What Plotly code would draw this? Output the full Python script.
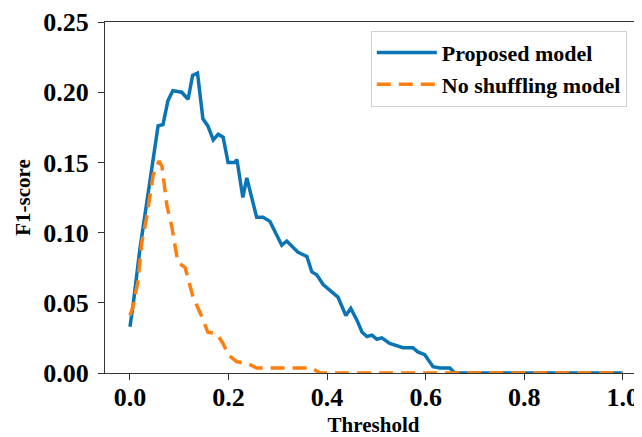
import plotly.graph_objects as go

# Proposed model (threshold, F1)
prop_x = [0.0, 0.0065, 0.02, 0.047, 0.057, 0.067, 0.077, 0.087, 0.105, 0.118, 0.127, 0.137,
          0.148, 0.158, 0.169, 0.179, 0.189, 0.199, 0.213, 0.217, 0.229, 0.237, 0.257, 0.27,
          0.284, 0.308, 0.318, 0.341, 0.359, 0.369, 0.379, 0.392, 0.406, 0.422, 0.438, 0.448,
          0.46, 0.471, 0.481, 0.491, 0.501, 0.511, 0.527, 0.537, 0.554, 0.574, 0.584, 0.598,
          0.615, 0.629, 0.649, 0.659, 0.7, 0.8, 0.9, 1.0]
prop_y = [0.033, 0.049, 0.088, 0.15, 0.176, 0.177, 0.194, 0.201, 0.2, 0.195, 0.212, 0.2136,
          0.181, 0.176, 0.166, 0.17, 0.168, 0.15, 0.15, 0.152, 0.125, 0.139, 0.111, 0.111,
          0.108, 0.091, 0.094, 0.086, 0.083, 0.072, 0.07, 0.063, 0.059, 0.054, 0.041, 0.046,
          0.038, 0.029, 0.026, 0.027, 0.024, 0.025, 0.021, 0.02, 0.018, 0.018, 0.015, 0.013,
          0.0045, 0.0036, 0.0036, 0.0, 0.0, 0.0, 0.0, 0.0]

# No shuffling model
nosh_x = [0.0, 0.006, 0.016, 0.024, 0.034, 0.047, 0.059, 0.065, 0.075, 0.085, 0.097, 0.112,
          0.128, 0.146, 0.158, 0.176, 0.189, 0.199, 0.217, 0.237, 0.257, 0.3, 0.369, 0.385,
          0.5, 0.6, 0.7, 0.8, 0.9, 1.0]
nosh_y = [0.041, 0.047, 0.065, 0.093, 0.111, 0.141, 0.151, 0.147, 0.119, 0.104, 0.079, 0.075,
          0.054, 0.04, 0.029, 0.028, 0.021, 0.013, 0.008, 0.007, 0.0036, 0.0036, 0.0036, 0.0,
          0.0, 0.0, 0.0, 0.0, 0.0, 0.0]

x_ticks = [0.0, 0.2, 0.4, 0.6, 0.8, 1.0]
y_ticks = [0.0, 0.05, 0.10, 0.15, 0.20, 0.25]

FONT = "Liberation Serif"

fig = go.Figure()
fig.add_trace(go.Scatter(x=prop_x, y=prop_y, mode="lines", name="Proposed model",
                         line=dict(color="#0a74b4", width=3.5), legendgroup="a"))
fig.add_trace(go.Scatter(x=nosh_x, y=nosh_y, mode="lines", name="No shuffling model",
                         line=dict(color="#ff7f0e", width=3.5, dash="14px,8px"), legendgroup="b"))

axis_common = dict(showgrid=False, zeroline=False, showline=True, linecolor="#333333",
                   linewidth=1.2, ticks="outside", ticklen=6, tickcolor="#333333",
                   automargin=False, ticklabeloverflow="allow",
                   tickfont=dict(family=FONT, size=26, color="black", weight="bold"))

# page body has an 8px margin, so the figure is sized 8px smaller
fig.update_layout(
    width=634, height=429,
    margin=dict(l=97, r=0, t=14, b=64),
    paper_bgcolor="white", plot_bgcolor="white",
    xaxis=dict(range=[-0.0507, 1.039], tickvals=x_ticks, ticktext=[f"{v:.1f}" for v in x_ticks],
               mirror=True, ticklabelstandoff=-5,
               title=dict(text="Threshold", font=dict(family=FONT, size=21, color="black", weight="bold"),
                          standoff=9),
               **axis_common),
    yaxis=dict(range=[0, 0.25], tickvals=y_ticks, ticktext=[f"{v:.2f}" for v in y_ticks],
               ticklabelstandoff=4,
               title=dict(text="F1-score", font=dict(family=FONT, size=21, color="black", weight="bold"),
                          standoff=6),
               **axis_common),
    legend=dict(x=0.495, y=0.975, xanchor="left", yanchor="top",
                font=dict(family=FONT, size=22, color="black", weight="bold"),
                bordercolor="#d0d0d0", borderwidth=1, bgcolor="white",
                itemwidth=60, tracegroupgap=0),
    showlegend=True,
)

fig.write_html("out.html")
